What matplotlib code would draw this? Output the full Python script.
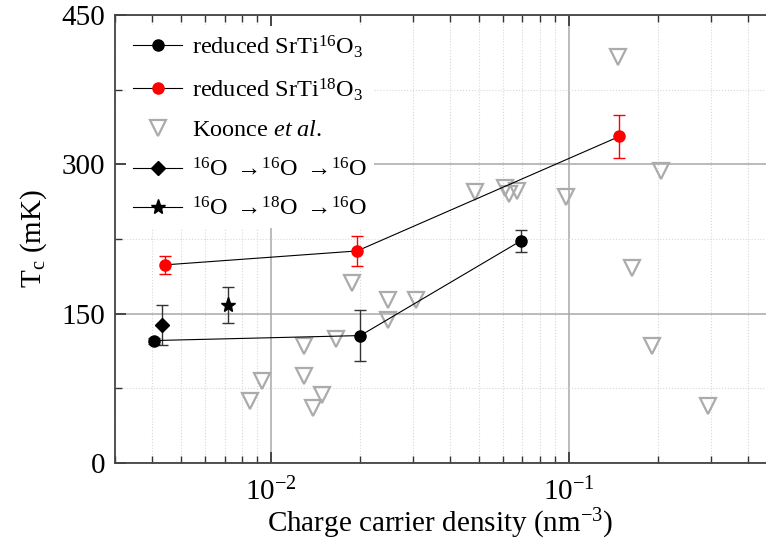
import numpy as np
import matplotlib
matplotlib.use('Agg')
import matplotlib.pyplot as plt
from matplotlib.ticker import LogLocator, MultipleLocator, NullFormatter

plt.rcParams['font.family'] = ['Liberation Serif', 'DejaVu Serif']
plt.rcParams['mathtext.fontset'] = 'custom'
plt.rcParams['mathtext.rm'] = 'Liberation Serif'
plt.rcParams['mathtext.it'] = 'Liberation Serif:italic'
plt.rcParams['mathtext.bf'] = 'Liberation Serif:bold'

# reduced SrTi16O3
n16 = [0.00405, 0.0200, 0.069]
tc16 = [123, 128, 223]
err16 = [3, 26, 11]

# reduced SrTi18O3
n18 = [0.00441, 0.0195, 0.148]
tc18 = [199, 213, 328]
err18 = [9, 15, 22]

# Koonce et al.
n_koonce = [0.00851, 0.00938, 0.0129, 0.0129, 0.01386, 0.0149, 0.01655, 0.01867,
            0.0248, 0.0248, 0.0307, 0.0485, 0.061, 0.063, 0.067, 0.0982,
            0.1466, 0.163, 0.191, 0.205, 0.294]
tc_koonce = [62, 82, 118, 87, 55, 68, 125, 181,
             164, 144, 164, 272, 276, 270, 273, 267,
             408, 196, 118, 293, 57]

# 16O -> 16O -> 16O
n_ddd = [0.00433]
tc_ddd = [139]
err_ddd = [20]

# 16O -> 18O -> 16O
n_ded = [0.00716]
tc_ded = [159]
err_ded = [18]

fig = plt.figure(figsize=(7.66, 5.43), dpi=100)
ax = fig.add_axes([115 / 766, 1 - 463 / 543, 651 / 766, 448 / 543])

ax.set_xscale('log')
ax.set_xlim(3e-3, 0.46)
ax.set_ylim(0, 450)

# grid
ax.xaxis.set_major_locator(LogLocator(base=10))
ax.xaxis.set_minor_locator(LogLocator(base=10, subs=np.arange(2, 10)))
ax.xaxis.set_minor_formatter(NullFormatter())
ax.yaxis.set_major_locator(MultipleLocator(150))
ax.yaxis.set_minor_locator(MultipleLocator(75))
ax.grid(True, which='major', color='#a8a8a8', lw=1.1, ls='-', zorder=0)
ax.grid(True, which='minor', color='#d8d8d8', lw=0.8, ls=':', zorder=0)
ax.set_axisbelow(True)

gray = '#ababab'
ax.plot(n_koonce, tc_koonce, 'v', ms=12, mfc='none', mec=gray, mew=1.6,
        label=r'Koonce $\mathit{et\ al.}$', zorder=3)

ax.errorbar(n16, tc16, yerr=err16, fmt='o-', color='black', ms=8, lw=0.8,
            ecolor='#333333', elinewidth=1.0, capsize=4,
            label=r'reduced SrTi$^{16}$O$_3$', zorder=4)
ax.errorbar(n18, tc18, yerr=err18, fmt='o-', color='black', mfc='red', mec='red',
            ms=8, lw=0.8, ecolor='red', elinewidth=1.0, capsize=4,
            label=r'reduced SrTi$^{18}$O$_3$', zorder=4)
ax.errorbar(n_ddd, tc_ddd, yerr=err_ddd, fmt='D-', color='black', ms=7, lw=0.8,
            ecolor='#333333', elinewidth=1.0, capsize=4,
            label=r'$^{16}$O $\rightarrow\!^{16}$O $\rightarrow\!^{16}$O', zorder=4)
ax.errorbar(n_ded, tc_ded, yerr=err_ded, fmt='*-', color='black', ms=11, lw=0.8,
            ecolor='#333333', elinewidth=1.0, capsize=4,
            label=r'$^{16}$O $\rightarrow\!^{18}$O $\rightarrow\!^{16}$O', zorder=4)

ax.set_yticks([0, 150, 300, 450])
ax.tick_params(which='both', direction='in', top=True, right=False,
               labelsize=21, colors='#333333', labelcolor='black')
ax.tick_params(axis='x', which='major', pad=11)
ax.tick_params(axis='y', which='major', pad=7)
ax.tick_params(which='major', length=8, width=1.2)
ax.tick_params(which='minor', length=5, width=1.0)
for side in ['left', 'bottom', 'top']:
    ax.spines[side].set_color('#444444')
    ax.spines[side].set_linewidth(1.3)
ax.spines['right'].set_visible(False)

ax.set_xlabel(r'Charge carrier density (nm$^{-3}$)', fontsize=21, labelpad=0)
ax.set_ylabel(r'T$_\mathrm{c}$ (mK)', fontsize=21, labelpad=9)

handles, labels = ax.get_legend_handles_labels()
order = [1, 2, 0, 3, 4]
handles = [h[0] if isinstance(h, tuple) else h for h in handles]
leg = ax.legend([handles[i] for i in order], [labels[i] for i in order],
                loc='upper left', bbox_to_anchor=(0.0, 1.0), fontsize=17.5,
                frameon=True, facecolor='white', edgecolor='none', framealpha=1,
                handlelength=2.0, handletextpad=0.4, labelspacing=0.68,
                borderpad=0.3, borderaxespad=0.45)
leg.set_zorder(5)

fig.savefig('out.png', dpi=100)
